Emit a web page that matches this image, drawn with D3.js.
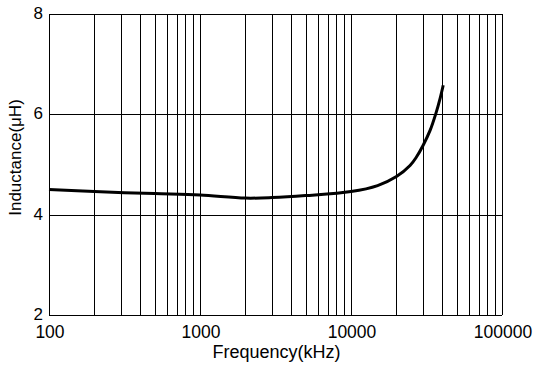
<!DOCTYPE html>
<html><head><meta charset="utf-8">
<script src="https://cdn.jsdelivr.net/npm/d3@7"></script>
<style>
html,body{margin:0;padding:0;background:#fff;}
text{font-family:"Liberation Sans",Arial,Helvetica,sans-serif;fill:#000;}
</style></head>
<body>
<svg id="chart" width="536" height="370"></svg>
<script>
const freqKHz = [100, 200, 500, 1000, 2000, 3000, 5000, 10000, 15000, 20000, 24600, 27000, 30000, 33400, 36500, 39000, 40800];
const inductanceUH = [4.50, 4.46, 4.42, 4.39, 4.33, 4.34, 4.38, 4.46, 4.58, 4.76, 4.98, 5.14, 5.38, 5.68, 6.02, 6.33, 6.58];
const xTickLabels = [100, 1000, 10000, 100000];
const yTickLabels = [2, 4, 6, 8];
const xTitle = "Frequency(kHz)";
const yTitle = "Inductance(\u03BCH)";

const svg = d3.select("#chart");
const m = {left: 49, right: 502, top: 14, bottom: 315};
const x = d3.scaleLog().domain([100, 100000]).range([m.left, m.right]);
const y = d3.scaleLinear().domain([2, 8]).range([m.bottom, m.top]);

// minor + major vertical gridlines
const vlines = [];
for (let d = 100; d < 100000; d *= 10) {
  for (let k = 1; k <= 9; k++) vlines.push(d * k);
}
vlines.push(100000);
svg.append("g").selectAll("line").data(vlines).join("line")
  .attr("x1", d => Math.round(x(d)) + 0.5).attr("x2", d => Math.round(x(d)) + 0.5)
  .attr("y1", m.top).attr("y2", m.bottom)
  .attr("stroke", "#000").attr("stroke-width", 1);

svg.append("g").selectAll("line").data(yTickLabels).join("line")
  .attr("x1", m.left).attr("x2", m.right)
  .attr("y1", d => Math.round(y(d)) + 0.5).attr("y2", d => Math.round(y(d)) + 0.5)
  .attr("stroke", "#000").attr("stroke-width", 1);

// tick labels
svg.append("g").selectAll("text").data(yTickLabels).join("text")
  .attr("x", m.left - 6).attr("y", d => y(d) - 1)
  .attr("dy", "0.36em").attr("text-anchor", "end")
  .style("font-size", "17px").text(d => d);

svg.append("g").selectAll("text").data(xTickLabels).join("text")
  .attr("x", d => x(d) + 1).attr("y", 338)
  .attr("text-anchor", "middle")
  .style("font-size", "17.5px").text(d => d);

// titles
svg.append("text").attr("x", (m.left + m.right) / 2 + 1).attr("y", 358)
  .attr("text-anchor", "middle").style("font-size", "18px").text(xTitle);
svg.append("text")
  .attr("transform", "translate(21,157.5) rotate(-90)")
  .attr("text-anchor", "middle").style("font-size", "17px").text(yTitle);

// curve
const line = d3.line().x((d, i) => x(freqKHz[i])).y(d => y(d)).curve(d3.curveCatmullRom.alpha(0.5));
svg.append("path").datum(inductanceUH).attr("d", line)
  .attr("fill", "none").attr("stroke", "#000").attr("stroke-width", 3)
  .attr("stroke-linejoin", "round");
</script>
</body></html>
